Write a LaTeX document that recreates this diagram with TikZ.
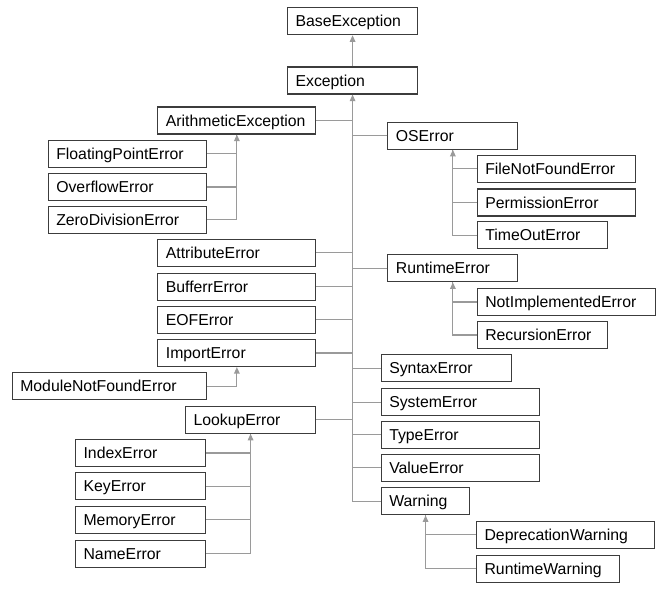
\documentclass[tikz,border=0pt]{standalone}
\usepackage{fontspec}
\newfontfamily\labelfont{Liberation Sans}
\usetikzlibrary{arrows.meta}
\definecolor{boxline}{HTML}{3C3C3C}
\definecolor{linkgray}{HTML}{9A9A9A}
\tikzset{
  box/.style={draw=boxline, line width=1.15pt, anchor=west, minimum height=27pt,
    inner xsep=8pt, inner ysep=0pt, text height=11.3pt, text depth=0pt, align=left,
    font={\labelfont\fontsize{15.8}{18}\selectfont}},
  bw/.code={\pgfmathsetlengthmacro\boxtextw{#1-16}\tikzset{text width=\boxtextw}},
  link/.style={draw=linkgray, line width=1.2pt},
  up/.style={link, -{Triangle[length=6.5pt,width=5.5pt]}}
}
\begin{document}
\begin{tikzpicture}[x=1pt,y=-1pt]
\useasboundingbox[fill=white] (0,0) rectangle (672,609);

% root and its direct subclass
\node[box,bw=130] (base) at (287,21.2) {BaseException};
\node[box,bw=130] (exc)  at (287,80.5) {Exception};

% left column under Exception
\node[box,bw=158] (arith) at (157.3,120.5) {ArithmeticException};
\node[box,bw=158] (float) at (47.7,153.7) {FloatingPointError};
\node[box,bw=158] (overflow) at (47.7,187) {OverflowError};
\node[box,bw=158] (zerodiv) at (47.7,219.9) {ZeroDivisionError};
\node[box,bw=158] (attr) at (157.3,252.7) {AttributeError};
\node[box,bw=158] (buffer) at (157.3,286.8) {BufferrError};
\node[box,bw=158] (eof) at (157.3,319.8) {EOFError};
\node[box,bw=158] (import) at (157.3,353) {ImportError};
\node[box,bw=194] (module) at (11.7,386.3) {ModuleNotFoundError};
\node[box,bw=130] (lookup) at (185,419.7) {LookupError};
\node[box,bw=130] (index) at (75,453) {IndexError};
\node[box,bw=130] (key) at (75,486.3) {KeyError};
\node[box,bw=130] (memory) at (75,519.7) {MemoryError};
\node[box,bw=130] (name) at (75,553.7) {NameError};

% right column under Exception
\node[box,bw=130] (os) at (387.3,135.7) {OSError};
\node[box,bw=158] (filenf) at (476.7,168.7) {FileNotFoundError};
\node[box,bw=158] (perm) at (476.7,202.5) {PermissionError};
\node[box,bw=130] (timeout) at (476.7,235.2) {TimeOutError};
\node[box,bw=130] (runtime) at (387.3,268.3) {RuntimeError};
\node[box,bw=178] (notimpl) at (476.7,302) {NotImplementedError};
\node[box,bw=130] (recursion) at (476.7,335) {RecursionError};
\node[box,bw=130] (syntax) at (380.7,368.3) {SyntaxError};
\node[box,bw=158] (system) at (380.7,402.3) {SystemError};
\node[box,bw=158] (type) at (380.7,434.8) {TypeError};
\node[box,bw=158] (value) at (380.7,467.8) {ValueError};
\node[box,bw=88.6] (warning) at (380.7,501.3) {Warning};
\node[box,bw=178] (deprec) at (476,534.8) {DeprecationWarning};
\node[box,bw=142.7] (rtwarn) at (476,568.8) {RuntimeWarning};

% inheritance links
\draw[up] (exc.north) -- (base.south);

\draw[up] (warning.west) -| (exc.south);
\foreach \c in {arith,attr,buffer,eof,import,lookup}
  \draw[link] (\c.east) -| (exc.south);
\foreach \c in {os,runtime,syntax,system,type,value}
  \draw[link] (\c.west) -| (exc.south);

\draw[up] (zerodiv.east) -| (arith.south);
\foreach \c in {float,overflow}
  \draw[link] (\c.east) -| (arith.south);

\draw[up] (module.east) -| (import.south);

\draw[up] (name.east) -| (lookup.south);
\foreach \c in {index,key,memory}
  \draw[link] (\c.east) -| (lookup.south);

\draw[up] (timeout.west) -| (os.south);
\foreach \c in {filenf,perm}
  \draw[link] (\c.west) -| (os.south);

\draw[up] (recursion.west) -| (runtime.south);
\draw[link] (notimpl.west) -| (runtime.south);

\draw[up] (rtwarn.west) -| (warning.south);
\draw[link] (deprec.west) -| (warning.south);
\end{tikzpicture}
\end{document}
